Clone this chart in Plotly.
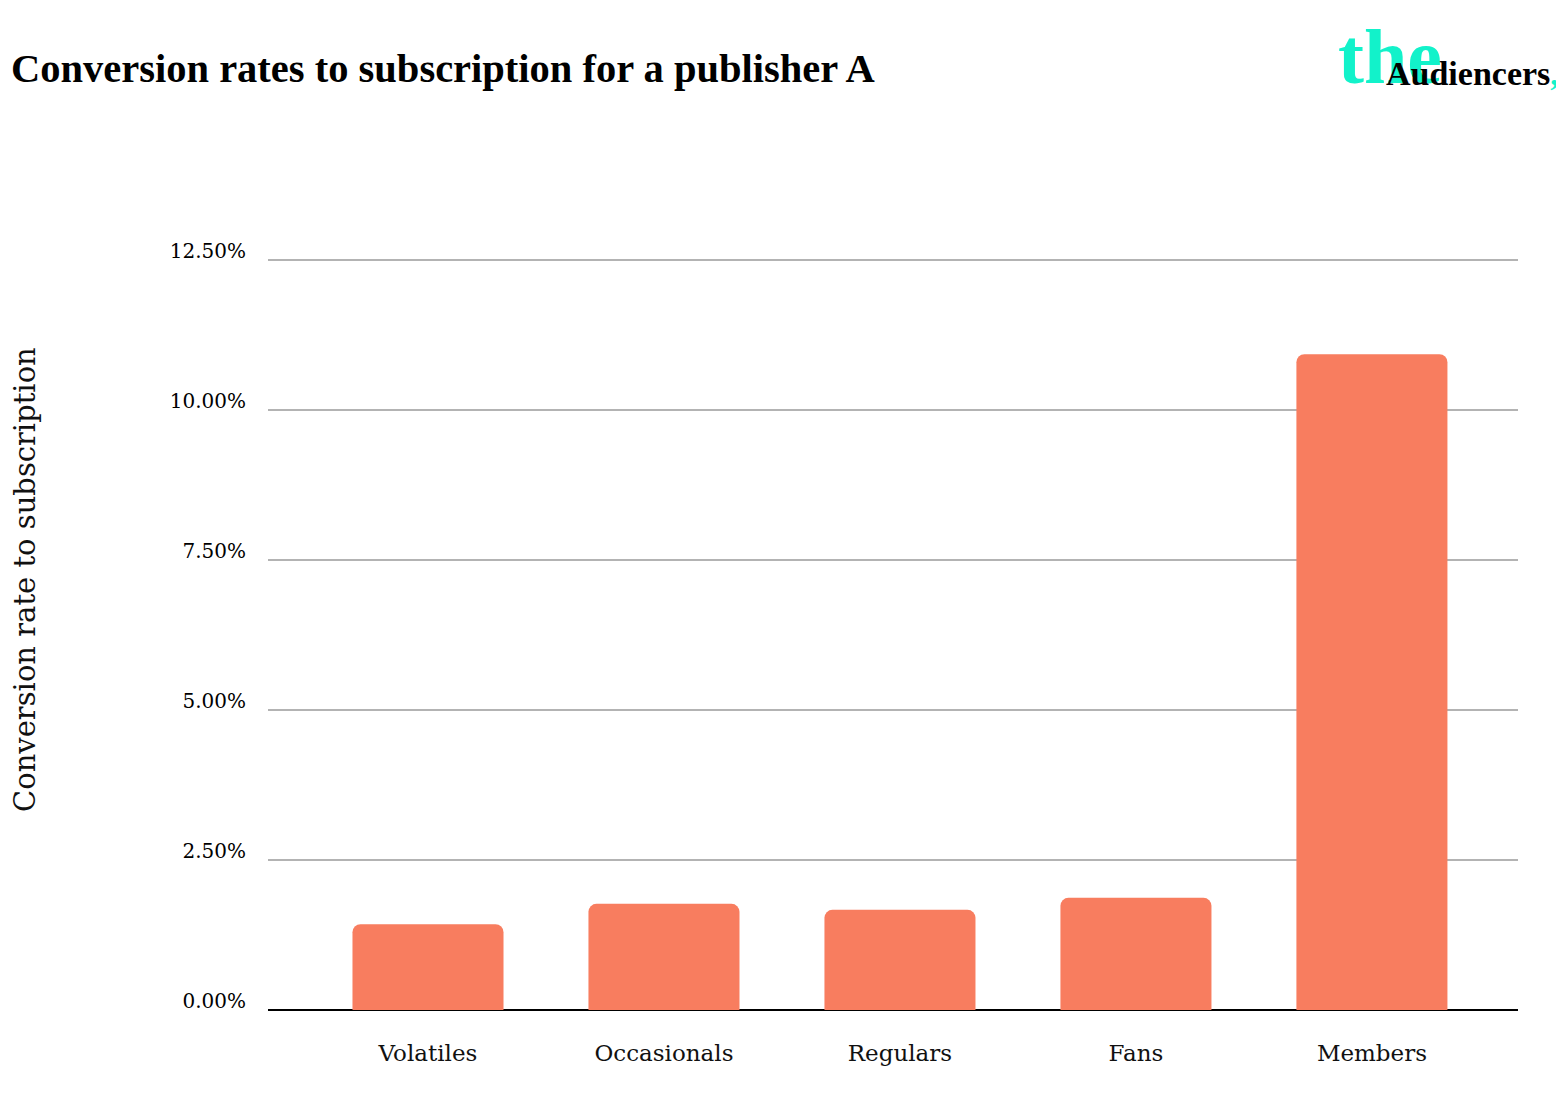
import plotly.graph_objects as go

categories = ["Volatiles", "Occasionals", "Regulars", "Fans", "Members"]
rates = [1.43, 1.77, 1.67, 1.87, 10.93]
y_ticks = [0, 2.5, 5, 7.5, 10, 12.5]
y_tick_labels = ["0.00%", "2.50%", "5.00%", "7.50%", "10.00%", "12.50%"]

BAR = "#F87D5F"
TEAL = "#12F2CA"
SERIF = "Liberation Serif, DejaVu Serif, serif"
DSERIF = "DejaVu Serif, Liberation Serif, serif"

W, H = 1564, 1100
OFF = 8  # page offset of the figure
L, R, T, B = 260, 54, 246, 98
plot_w = W - L - R
plot_h = H - T - B


def px(xp):
    return (xp - OFF - L) / plot_w


def py(yp):
    return (H - B - (yp - OFF)) / plot_h


fig = go.Figure()
fig.add_trace(go.Bar(
    x=list(range(len(categories))),
    y=rates,
    width=0.64,
    marker=dict(color=BAR, cornerradius=8, line=dict(width=0)),
    hoverinfo="skip",
))

fig.update_layout(
    width=W, height=H,
    margin=dict(l=L, r=R, t=T, b=B, pad=0),
    plot_bgcolor="white", paper_bgcolor="white",
    showlegend=False,
    font=dict(family=SERIF, color="#111111"),
    xaxis=dict(
        range=[-0.678, 4.619],
        tickmode="array",
        tickvals=list(range(len(categories))),
        ticktext=categories,
        showgrid=False, zeroline=False, showline=False,
        ticks="", ticklabelstandoff=27,
        tickfont=dict(size=23, family=DSERIF, color="#111111"),
    ),
    yaxis=dict(
        range=[0, 12.6],
        tickmode="array",
        tickvals=y_ticks,
        ticktext=y_tick_labels,
        showgrid=True, gridcolor="#B3B3B3", gridwidth=1.5,
        zeroline=True, zerolinecolor="#000000", zerolinewidth=2,
        showline=False, ticks="",
        ticklabelstandoff=21, ticklabelshift=-9,
        tickfont=dict(size=20, family=DSERIF, color="#000000"),
    ),
)

# Y axis title
fig.add_annotation(
    text="Conversion rate to subscription",
    x=px(25), y=py(580), xref="paper", yref="paper",
    xanchor="center", yanchor="middle",
    showarrow=False, textangle=-90,
    font=dict(size=29, family=DSERIF, color="#111111"),
)

# Title
fig.add_annotation(
    text="<b>Conversion rates to subscription for a publisher A</b>",
    x=px(9), y=py(68),
    xref="paper", yref="paper", xanchor="left", yanchor="middle",
    showarrow=False,
    font=dict(size=40.5, family=SERIF, color="#000000"),
)

# Logo
fig.add_annotation(
    text="<b>the</b>",
    x=px(1336), y=py(56),
    xref="paper", yref="paper", xanchor="left", yanchor="middle",
    showarrow=False,
    font=dict(size=78, family=SERIF, color=TEAL),
)
fig.add_annotation(
    text="<b>Audiencers</b><b><span style='color:%s'>,</span></b>" % TEAL,
    x=px(1384), y=py(73),
    xref="paper", yref="paper", xanchor="left", yanchor="middle",
    showarrow=False,
    font=dict(size=34, family=SERIF, color="#000000"),
)

fig.write_html("out.html")
